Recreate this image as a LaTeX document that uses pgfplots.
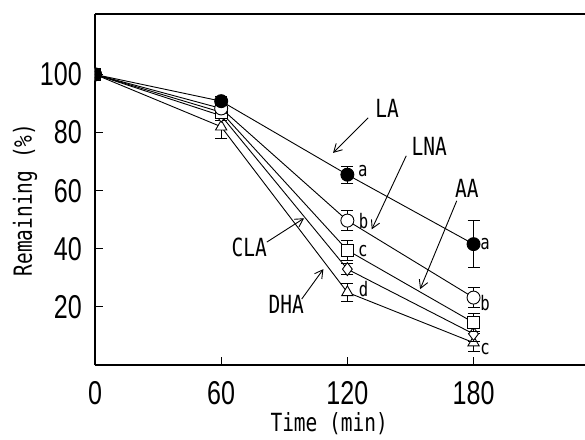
\documentclass[border=0pt]{standalone}
\usepackage{fontspec}
\usepackage{pgfplots}
\pgfplotsset{compat=1.18}
\usetikzlibrary{arrows.meta}
\newfontfamily\tickfont{Liberation Sans}[FakeStretch=0.76]
\newfontfamily\labfont{DejaVu Sans Mono}[FakeStretch=0.78]
\newcommand\ticksz{\tickfont\fontsize{33}{33}\selectfont}
\newcommand\labsz{\labfont\fontsize{25}{27}\selectfont}
\newcommand\letsz{\labfont\fontsize{20}{22}\selectfont}

\begin{document}
\begin{tikzpicture}
\begin{axis}[
    at={(0,0)}, anchor=south west,
    scale only axis, width=490pt, height=351pt,
    xmin=0, xmax=233, ymin=0, ymax=120.8,
    axis x line=box, axis y line=left,
    axis line style={-, line width=1.2pt},
    tick pos=left, tick align=inside,
    major tick length=8pt,
    tick style={line width=1pt, black},
    xtick={0,60,120,180}, ytick={20,40,60,80,100},
    /pgf/number format/assume math mode=true,
    ticklabel style={font=\ticksz, inner sep=0pt},
    xticklabel style={anchor=north, yshift=-16pt},
    yticklabel style={anchor=east, xshift=-13pt},
    xlabel={Time (min)},
    xlabel style={at={([yshift=-66pt]rel axis cs:0.478,0)}, anchor=base, font=\labsz, inner sep=0pt},
    ylabel={Remaining (\%)},
    ylabel style={at={([xshift=-63pt]rel axis cs:0,0.47)}, anchor=base, font=\labsz, inner sep=0pt},
    clip marker paths=true,
    every axis plot/.append style={black, line width=0.9pt,
        error bars/y dir=both, error bars/y explicit,
        error bars/error mark options={rotate=90, mark size=6pt, line width=0.9pt},
        error bars/error bar style={line width=0.9pt}},
]
% DHA
\addplot[mark=triangle*, mark size=6.5pt, mark options={fill=white, solid}]
  coordinates {(0,100) +- (0,1) (60,82) +- (0,4) (120,25) +- (0,3) (180,7.7) +- (0,3)};
% CLA
\addplot[mark=diamond*, mark size=6.5pt, mark options={fill=white, solid}]
  coordinates {(0,100) +- (0,1) (60,85.8) +- (0,1.5) (120,33) +- (0,2) (180,10.7) +- (0,2.5)};
% AA
\addplot[mark=square*, mark size=5.8pt, mark options={fill=white, solid}]
  coordinates {(0,100) +- (0,1) (60,87) +- (0,1.5) (120,39.5) +- (0,3.5) (180,14.6) +- (0,3)};
% LNA
\addplot[mark=*, mark size=6.5pt, mark options={fill=white, solid}]
  coordinates {(0,100) +- (0,1) (60,88.3) +- (0,1.5) (120,49.7) +- (0,3.5) (180,23.2) +- (0,3.5)};
% LA
\addplot[mark=*, mark size=6.5pt, mark options={fill=black, solid}]
  coordinates {(0,100) +- (0,1) (60,90.8) +- (0,1.5) (120,65.5) +- (0,3) (180,41.6) +- (0,8)};

\begin{scope}[line width=0.9pt, -{Straight Barb[length=8pt,width=9pt]}]
  \draw (axis cs:129.9,85.1) -- (axis cs:113.2,73.0);
  \draw (axis cs:148.0,72.0) -- (axis cs:131.6,46.7);
  \draw (axis cs:172.0,56.5) -- (axis cs:154.6,26.1);
  \draw (axis cs:81.7,42.3) -- (axis cs:99.4,50.5);
  \draw (axis cs:98.3,22.7) -- (axis cs:108.6,33.0);
\end{scope}
\node[font=\labsz, inner sep=0pt] at (axis cs:138.9,88.2) {LA};
\node[font=\labsz, inner sep=0pt] at (axis cs:158.9,75.4) {LNA};
\node[font=\labsz, inner sep=0pt] at (axis cs:176.8,60.8) {AA};
\node[font=\labsz, inner sep=0pt] at (axis cs:73.3,40.6) {CLA};
\node[font=\labsz, inner sep=0pt] at (axis cs:90.9,20.7) {DHA};

\node[font=\letsz, inner sep=0pt] at (axis cs:127.4,66.6) {a};
\node[font=\letsz, inner sep=0pt] at (axis cs:127.7,49.6) {b};
\node[font=\letsz, inner sep=0pt] at (axis cs:127.4,39.3) {c};
\node[font=\letsz, inner sep=0pt] at (axis cs:127.7,26.1) {d};
\node[font=\letsz, inner sep=0pt] at (axis cs:185.5,41.7) {a};
\node[font=\letsz, inner sep=0pt] at (axis cs:185.5,21.4) {b};
\node[font=\letsz, inner sep=0pt] at (axis cs:185.5,5.5) {c};
\end{axis}
\pgfresetboundingbox
\path (-95pt,-74pt) rectangle (490pt,365pt);
\end{tikzpicture}
\end{document}
